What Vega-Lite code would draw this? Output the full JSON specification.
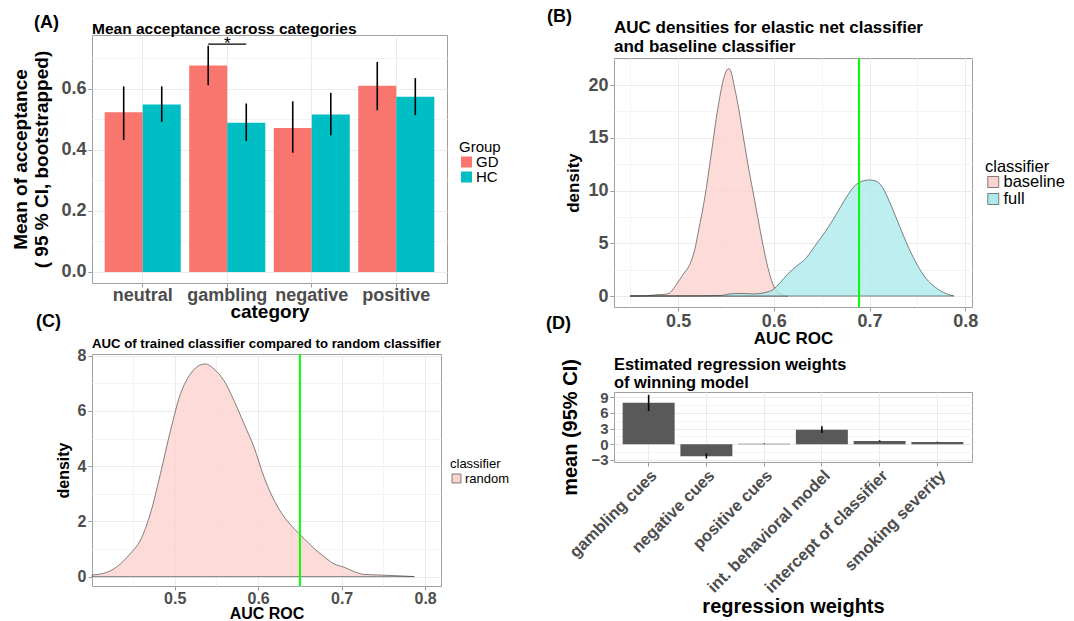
{
  "$schema": "https://vega.github.io/schema/vega-lite/v6.json",
  "background": "white",
  "padding": {"left": 11, "top": 7, "right": 0, "bottom": 0},
  "spacing": 34,
  "resolve": {"scale": {"color": "independent"}, "legend": {"color": "independent"}},
  "config": {
    "font": "Liberation Sans",
    "view": {"stroke": "#A0A0A0", "strokeWidth": 1},
    "axis": {
      "gridColor": "#EBEBEB", "gridWidth": 1, "domain": false,
      "tickColor": "#999999", "tickSize": 4, "labelPadding": 2, "labelOverlap": false,
      "labelColor": "#4D4D4D", "labelFontWeight": "bold",
      "titleColor": "#000000", "titleFontWeight": "bold"
    },
    "legend": {
      "titleFontWeight": "normal", "titleColor": "#000000", "labelColor": "#000000",
      "symbolType": "square", "rowPadding": 0, "labelOffset": 2, "padding": 0
    },
    "title": {"anchor": "start", "frame": "group", "color": "#000000", "fontWeight": "bold", "fontSize": 18, "subtitleColor": "#000000", "subtitleFontWeight": "bold"}
  },
  "hconcat": [
    {
      "spacing": -10,
      "resolve": {"scale": {"color": "independent"}, "legend": {"color": "independent"}},
      "vconcat": [
        {
          "width": 355, "height": 248,
          "title": {"text": "(A)", "subtitle": "Mean acceptance across categories", "subtitleFontSize": 15.5, "subtitlePadding": -4, "offset": 4, "encoding": {"dx": {"value": -58}, "dy": {"value": 6}}},
          "data": {"values": [
            {"category": "neutral", "group": "GD", "mean": 0.522, "lo": 0.432, "hi": 0.607},
            {"category": "neutral", "group": "HC", "mean": 0.548, "lo": 0.491, "hi": 0.607},
            {"category": "gambling", "group": "GD", "mean": 0.675, "lo": 0.611, "hi": 0.740},
            {"category": "gambling", "group": "HC", "mean": 0.488, "lo": 0.428, "hi": 0.551},
            {"category": "negative", "group": "GD", "mean": 0.471, "lo": 0.390, "hi": 0.558},
            {"category": "negative", "group": "HC", "mean": 0.515, "lo": 0.447, "hi": 0.586},
            {"category": "positive", "group": "GD", "mean": 0.609, "lo": 0.529, "hi": 0.687},
            {"category": "positive", "group": "HC", "mean": 0.573, "lo": 0.513, "hi": 0.634}
          ]},
          "resolve": {"axis": {"y": "independent"}},
          "layer": [
            {
              "mark": {"type": "bar"},
              "encoding": {
                "x": {"field": "category", "type": "nominal",
                  "scale": {"domain": ["neutral", "gambling", "negative", "positive"], "paddingInner": 0, "paddingOuter": 0.1},
                  "axis": {"title": "category", "labelAngle": 0, "labelFontSize": 18, "titleFontSize": 19, "grid": true, "labelPadding": -1, "titlePadding": -2}},
                "xOffset": {"field": "group", "type": "nominal", "scale": {"domain": ["GD", "HC"], "paddingInner": 0, "paddingOuter": 0.111}},
                "y": {"field": "mean", "type": "quantitative",
                  "scale": {"domain": [-0.036, 0.775], "nice": false, "zero": false},
                  "axis": {"orient": "left", "values": [0, 0.2, 0.4, 0.6], "format": ".1f", "title": ["Mean of acceptance", "( 95 % CI, bootstrapped)"], "labelFontSize": 18, "titleFontSize": 19, "titleLineHeight": 21, "titlePadding": 9}},
                "color": {"field": "group", "type": "nominal",
                  "scale": {"domain": ["GD", "HC"], "range": ["#F8766D", "#00BFC4"]},
                  "legend": {"title": "Group", "orient": "none", "legendX": 367, "legendY": 105, "titleFontSize": 15, "labelFontSize": 15, "symbolSize": 121, "symbolStrokeWidth": 0, "clipHeight": 12, "titlePadding": 1}}
              }
            },
            {
              "mark": {"type": "rule", "color": "#000000", "strokeWidth": 1.6},
              "encoding": {
                "x": {"field": "category", "type": "nominal"},
                "xOffset": {"field": "group", "type": "nominal"},
                "y": {"field": "lo", "type": "quantitative",
                  "axis": {"orient": "right", "values": [0.1, 0.3, 0.5, 0.7], "grid": true, "gridColor": "#F4F4F4", "labels": false, "ticks": false, "domain": false, "title": null}},
                "y2": {"field": "hi"}
              }
            },
            {
              "data": {"values": [
                {"category": "gambling", "group": "GD", "level": 0.745},
                {"category": "gambling", "group": "HC", "level": 0.745}
              ]},
              "mark": {"type": "line", "color": "#000000", "strokeWidth": 1.2},
              "encoding": {
                "x": {"field": "category", "type": "nominal"},
                "xOffset": {"field": "group", "type": "nominal"},
                "y": {"field": "level", "type": "quantitative", "axis": null}
              }
            },
            {
              "data": {"values": [{"category": "gambling", "level": 0.745, "label": "*"}]},
              "mark": {"type": "text", "fontSize": 17, "color": "#000000", "baseline": "alphabetic", "dy": 5},
              "encoding": {
                "x": {"field": "category", "type": "nominal"},
                "y": {"field": "level", "type": "quantitative", "axis": null},
                "text": {"field": "label"}
              }
            }
          ]
        },
        {
          "width": 349, "height": 232,
          "title": {"text": "(C)", "subtitle": "AUC of trained classifier compared to random classifier", "subtitleFontSize": 13.2, "subtitlePadding": 7, "offset": -3, "encoding": {"dx": {"value": -56}}},
          "resolve": {"axis": {"x": "independent", "y": "independent"}},
          "layer": [
            {
              "data": {"values": [
                {"classifier": "random", "auc": 0.401, "density": 0.06},
                {"classifier": "random", "auc": 0.415, "density": 0.12},
                {"classifier": "random", "auc": 0.431, "density": 0.36},
                {"classifier": "random", "auc": 0.447, "density": 0.84},
                {"classifier": "random", "auc": 0.459, "density": 1.32},
                {"classifier": "random", "auc": 0.471, "density": 2.29},
                {"classifier": "random", "auc": 0.483, "density": 3.73},
                {"classifier": "random", "auc": 0.495, "density": 5.29},
                {"classifier": "random", "auc": 0.507, "density": 6.62},
                {"classifier": "random", "auc": 0.519, "density": 7.34},
                {"classifier": "random", "auc": 0.531, "density": 7.67},
                {"classifier": "random", "auc": 0.537, "density": 7.70},
                {"classifier": "random", "auc": 0.547, "density": 7.52},
                {"classifier": "random", "auc": 0.559, "density": 7.10},
                {"classifier": "random", "auc": 0.571, "density": 6.38},
                {"classifier": "random", "auc": 0.583, "density": 5.54},
                {"classifier": "random", "auc": 0.595, "density": 4.69},
                {"classifier": "random", "auc": 0.607, "density": 3.61},
                {"classifier": "random", "auc": 0.619, "density": 2.77},
                {"classifier": "random", "auc": 0.631, "density": 2.17},
                {"classifier": "random", "auc": 0.643, "density": 1.74},
                {"classifier": "random", "auc": 0.655, "density": 1.38},
                {"classifier": "random", "auc": 0.667, "density": 1.02},
                {"classifier": "random", "auc": 0.679, "density": 0.72},
                {"classifier": "random", "auc": 0.691, "density": 0.46},
                {"classifier": "random", "auc": 0.703, "density": 0.34},
                {"classifier": "random", "auc": 0.715, "density": 0.18},
                {"classifier": "random", "auc": 0.727, "density": 0.08},
                {"classifier": "random", "auc": 0.743, "density": 0.06},
                {"classifier": "random", "auc": 0.759, "density": 0.04},
                {"classifier": "random", "auc": 0.775, "density": 0.02},
                {"classifier": "random", "auc": 0.787, "density": 0.0}
              ]},
              "mark": {"type": "area", "fillOpacity": 0.8, "stroke": "#333333", "strokeWidth": 0.6, "interpolate": "monotone"},
              "encoding": {
                "x": {"field": "auc", "type": "quantitative",
                  "scale": {"domain": [0.401, 0.819], "nice": false, "zero": false},
                  "axis": {"orient": "bottom", "values": [0.5, 0.6, 0.7, 0.8], "format": ".1f", "title": "AUC ROC", "labelFontSize": 16, "titleFontSize": 16, "titlePadding": -1, "labelPadding": 0}},
                "y": {"field": "density", "type": "quantitative", "stack": null,
                  "scale": {"domain": [-0.34, 8.06], "nice": false, "zero": false},
                  "axis": {"orient": "left", "values": [0, 2, 4, 6, 8], "title": "density", "labelFontSize": 16, "titleFontSize": 16, "titlePadding": 6}},
                "color": {"field": "classifier", "type": "nominal",
                  "scale": {"domain": ["random"], "range": ["#FBD2CE"]},
                  "legend": {"title": "classifier", "orient": "none", "legendX": 358, "legendY": 104, "titleFontSize": 13, "labelFontSize": 13, "symbolSize": 81, "symbolStrokeColor": "#333333", "symbolStrokeWidth": 0.6, "titlePadding": 1}}
              }
            },
            {
              "data": {"values": [{"observed": 0.65, "low": -0.34, "high": 8.06}]},
              "mark": {"type": "rule", "color": "#00FF00", "strokeWidth": 2},
              "encoding": {
                "x": {"field": "observed", "type": "quantitative",
                  "axis": {"orient": "top", "values": [0.45, 0.55, 0.65, 0.75], "grid": true, "gridColor": "#F4F4F4", "labels": false, "ticks": false, "domain": false, "title": null}},
                "y": {"field": "low", "type": "quantitative",
                  "axis": {"orient": "right", "values": [1, 3, 5, 7], "grid": true, "gridColor": "#F4F4F4", "labels": false, "ticks": false, "domain": false, "title": null}},
                "y2": {"field": "high"}
              }
            }
          ]
        }
      ]
    },
    {
      "spacing": -33,
      "resolve": {"scale": {"color": "independent"}, "legend": {"color": "independent"}},
      "vconcat": [
        {
          "width": 10, "height": 5,
          "view": {"stroke": null},
          "data": {"values": []},
          "mark": {"type": "point", "opacity": 0},
          "encoding": {}
        },
        {
          "width": 358, "height": 249,
          "title": {"text": "(B)", "subtitle": ["AUC densities for elastic net classifier", "and baseline classifier"], "subtitleFontSize": 17, "subtitleLineHeight": 19, "subtitlePadding": -6, "offset": 2, "encoding": {"dx": {"value": -67}}},
          "resolve": {"axis": {"x": "independent", "y": "independent"}},
          "layer": [
            {
              "data": {"values": [
                {"classifier": "baseline", "auc": 0.4497, "density": 0.0},
                {"classifier": "baseline", "auc": 0.467, "density": 0.03},
                {"classifier": "baseline", "auc": 0.4774, "density": 0.12},
                {"classifier": "baseline", "auc": 0.4844, "density": 0.15},
                {"classifier": "baseline", "auc": 0.4896, "density": 0.22},
                {"classifier": "baseline", "auc": 0.4983, "density": 1.11},
                {"classifier": "baseline", "auc": 0.5052, "density": 2.05},
                {"classifier": "baseline", "auc": 0.5122, "density": 3.0},
                {"classifier": "baseline", "auc": 0.5174, "density": 4.42},
                {"classifier": "baseline", "auc": 0.5219, "density": 6.48},
                {"classifier": "baseline", "auc": 0.526, "density": 8.37},
                {"classifier": "baseline", "auc": 0.5295, "density": 10.27},
                {"classifier": "baseline", "auc": 0.533, "density": 12.48},
                {"classifier": "baseline", "auc": 0.5365, "density": 14.69},
                {"classifier": "baseline", "auc": 0.5399, "density": 16.9},
                {"classifier": "baseline", "auc": 0.5434, "density": 18.8},
                {"classifier": "baseline", "auc": 0.5469, "density": 20.38},
                {"classifier": "baseline", "auc": 0.5503, "density": 21.33},
                {"classifier": "baseline", "auc": 0.5531, "density": 21.55},
                {"classifier": "baseline", "auc": 0.5556, "density": 21.17},
                {"classifier": "baseline", "auc": 0.559, "density": 19.75},
                {"classifier": "baseline", "auc": 0.5625, "density": 18.17},
                {"classifier": "baseline", "auc": 0.566, "density": 16.27},
                {"classifier": "baseline", "auc": 0.5694, "density": 14.38},
                {"classifier": "baseline", "auc": 0.5729, "density": 12.48},
                {"classifier": "baseline", "auc": 0.5781, "density": 9.95},
                {"classifier": "baseline", "auc": 0.5833, "density": 7.42},
                {"classifier": "baseline", "auc": 0.5885, "density": 4.9},
                {"classifier": "baseline", "auc": 0.5938, "density": 2.69},
                {"classifier": "baseline", "auc": 0.599, "density": 1.11},
                {"classifier": "baseline", "auc": 0.6042, "density": 0.32},
                {"classifier": "baseline", "auc": 0.6111, "density": 0.06},
                {"classifier": "baseline", "auc": 0.6146, "density": 0.0},
                {"classifier": "full", "auc": 0.4497, "density": 0.0},
                {"classifier": "full", "auc": 0.4948, "density": 0.0},
                {"classifier": "full", "auc": 0.5451, "density": 0.05},
                {"classifier": "full", "auc": 0.5538, "density": 0.2},
                {"classifier": "full", "auc": 0.5642, "density": 0.25},
                {"classifier": "full", "auc": 0.5781, "density": 0.2},
                {"classifier": "full", "auc": 0.592, "density": 0.35},
                {"classifier": "full", "auc": 0.599, "density": 0.6},
                {"classifier": "full", "auc": 0.6059, "density": 1.2},
                {"classifier": "full", "auc": 0.6146, "density": 2.1},
                {"classifier": "full", "auc": 0.6233, "density": 2.8},
                {"classifier": "full", "auc": 0.6337, "density": 3.6},
                {"classifier": "full", "auc": 0.6441, "density": 4.9},
                {"classifier": "full", "auc": 0.6545, "density": 6.2},
                {"classifier": "full", "auc": 0.6649, "density": 7.7},
                {"classifier": "full", "auc": 0.6753, "density": 9.3},
                {"classifier": "full", "auc": 0.684, "density": 10.4},
                {"classifier": "full", "auc": 0.6927, "density": 10.9},
                {"classifier": "full", "auc": 0.6997, "density": 11.0},
                {"classifier": "full", "auc": 0.7066, "density": 10.9},
                {"classifier": "full", "auc": 0.7135, "density": 10.3},
                {"classifier": "full", "auc": 0.7205, "density": 9.0},
                {"classifier": "full", "auc": 0.7292, "density": 7.1},
                {"classifier": "full", "auc": 0.7378, "density": 5.2},
                {"classifier": "full", "auc": 0.7483, "density": 3.2},
                {"classifier": "full", "auc": 0.7587, "density": 1.7},
                {"classifier": "full", "auc": 0.7691, "density": 0.8},
                {"classifier": "full", "auc": 0.7795, "density": 0.25},
                {"classifier": "full", "auc": 0.7882, "density": 0.0}
              ]},
              "mark": {"type": "area", "fillOpacity": 0.8, "stroke": "#333333", "strokeWidth": 0.6, "interpolate": "monotone"},
              "encoding": {
                "x": {"field": "auc", "type": "quantitative",
                  "scale": {"domain": [0.433, 0.807], "nice": false, "zero": false},
                  "axis": {"orient": "bottom", "values": [0.5, 0.6, 0.7, 0.8], "format": ".1f", "title": "AUC ROC", "labelFontSize": 18, "titleFontSize": 17, "titlePadding": 0, "labelPadding": 1}},
                "y": {"field": "density", "type": "quantitative", "stack": null,
                  "scale": {"domain": [-1.04, 22.56], "nice": false, "zero": false},
                  "axis": {"orient": "left", "values": [0, 5, 10, 15, 20], "title": "density", "labelFontSize": 18, "titleFontSize": 17, "titlePadding": 5}},
                "color": {"field": "classifier", "type": "nominal",
                  "scale": {"domain": ["baseline", "full"], "range": ["#FBD2CE", "#ADEAEC"]},
                  "legend": {"title": "classifier", "orient": "none", "legendX": 371, "legendY": 101, "titleFontSize": 16.5, "labelFontSize": 16.5, "symbolSize": 121, "symbolStrokeColor": "#333333", "symbolStrokeWidth": 0.6, "clipHeight": 13, "titlePadding": 0}}
              }
            },
            {
              "data": {"values": [{"observed": 0.689, "low": -1.04, "high": 22.56}]},
              "mark": {"type": "rule", "color": "#00FF00", "strokeWidth": 2},
              "encoding": {
                "x": {"field": "observed", "type": "quantitative",
                  "axis": {"orient": "top", "values": [0.45, 0.55, 0.65, 0.75], "grid": true, "gridColor": "#F4F4F4", "labels": false, "ticks": false, "domain": false, "title": null}},
                "y": {"field": "low", "type": "quantitative",
                  "axis": {"orient": "right", "values": [2.5, 7.5, 12.5, 17.5, 22.5], "grid": true, "gridColor": "#F4F4F4", "labels": false, "ticks": false, "domain": false, "title": null}},
                "y2": {"field": "high"}
              }
            }
          ]
        },
        {
          "width": 358, "height": 70,
          "title": {"text": "(D)", "subtitle": ["Estimated regression weights", "of winning model"], "subtitleFontSize": 16.4, "subtitleLineHeight": 18, "subtitlePadding": 24, "offset": -33, "encoding": {"dx": {"value": -68}}},
          "data": {"values": [
            {"weight": "gambling cues", "mean": 7.93, "lo": 6.35, "hi": 9.45},
            {"weight": "negative cues", "mean": -2.28, "lo": -2.72, "hi": -1.77},
            {"weight": "positive cues", "mean": 0.1, "lo": 0.05, "hi": 0.15},
            {"weight": "int. behavioral model", "mean": 2.79, "lo": 2.17, "hi": 3.42},
            {"weight": "intercept of classifier", "mean": 0.63, "lo": 0.52, "hi": 0.75},
            {"weight": "smoking severity", "mean": 0.44, "lo": 0.4, "hi": 0.48}
          ]},
          "resolve": {"axis": {"y": "independent"}},
          "layer": [
            {
              "mark": {"type": "bar", "color": "#595959"},
              "encoding": {
                "x": {"field": "weight", "type": "nominal",
                  "scale": {"domain": ["gambling cues", "negative cues", "positive cues", "int. behavioral model", "intercept of classifier", "smoking severity"], "paddingInner": 0.1, "paddingOuter": 0.15},
                  "axis": {"title": "regression weights", "labelAngle": -45, "labelFontSize": 16.5, "titleFontSize": 20, "grid": true, "labelPadding": 1, "titlePadding": 0}},
                "y": {"field": "mean", "type": "quantitative",
                  "scale": {"domain": [-3.4, 10.0], "nice": false, "zero": false},
                  "axis": {"orient": "left", "values": [-3, 0, 3, 6, 9], "title": "mean (95% CI)", "labelFontSize": 15, "titleFontSize": 20, "titlePadding": 10}}
              }
            },
            {
              "mark": {"type": "rule", "color": "#000000", "strokeWidth": 1.6},
              "encoding": {
                "x": {"field": "weight", "type": "nominal"},
                "y": {"field": "lo", "type": "quantitative",
                  "axis": {"orient": "right", "values": [-1.5, 1.5, 4.5, 7.5], "grid": true, "gridColor": "#F4F4F4", "labels": false, "ticks": false, "domain": false, "title": null}},
                "y2": {"field": "hi"}
              }
            }
          ]
        }
      ]
    }
  ]
}
